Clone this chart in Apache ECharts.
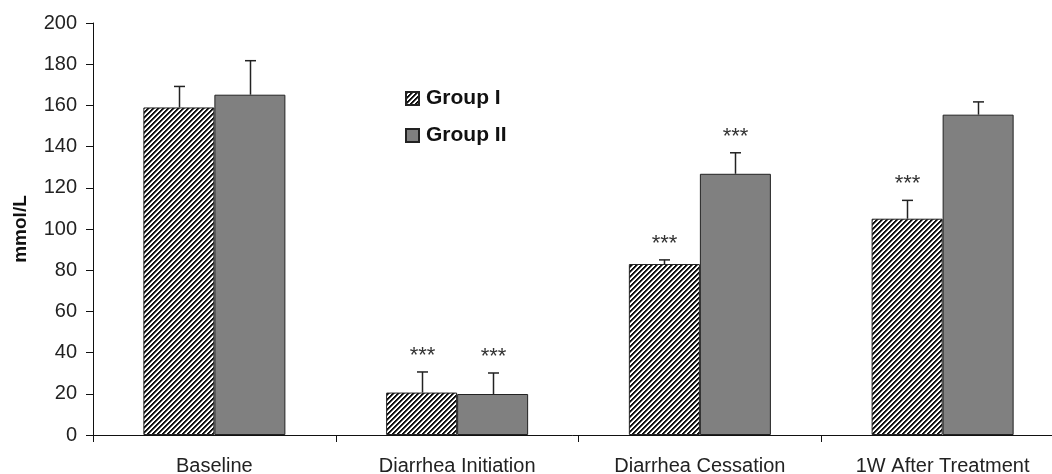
<!DOCTYPE html>
<html><head><meta charset="utf-8">
<script src="https://cdn.jsdelivr.net/npm/echarts@6/dist/echarts.min.js"></script>
<style>html,body{margin:0;padding:0;background:#fff}#c{width:1052px;height:474px}</style>
</head><body><div id="c"></div>
<script>
const categories = ['Baseline', 'Diarrhea Initiation', 'Diarrhea Cessation', '1W After Treatment'];
const groupNames = ['Group I', 'Group II'];
const group1Mean = [159, 20.6, 83, 105];
const group1ErrTop = [169.2, 30.6, 85, 113.9];
const group1Stars = ['', '***', '***', '***'];
const group2Mean = [165.2, 19.9, 126.8, 155.5];
const group2ErrTop = [181.7, 30.1, 137, 161.7];
const group2Stars = ['', '***', '***', ''];

const FONT = '"Liberation Sans", Arial, sans-serif';
const CAT_GAP = 0.415;

function hatch() {
  const P = 5, c = document.createElement('canvas');
  c.width = P; c.height = P;
  const ctx = c.getContext('2d');
  const img = ctx.createImageData(P, P);
  for (let y = 0; y < P; y++) for (let x = 0; x < P; x++) {
    const k = (x + y) % P;
    const v = k < 2 ? 15 : (k === 2 ? 120 : 255);
    const i = (y * P + x) * 4;
    img.data[i] = v; img.data[i + 1] = v; img.data[i + 2] = v; img.data[i + 3] = 255;
  }
  ctx.putImageData(img, 0, 0);
  return c;
}
const hatchColor = { image: hatch(), repeat: 'repeat' };

function errSeries(name, means, tops, stars, side) {
  return {
    name: name, type: 'custom', z: 5,
    data: means.map((m, i) => [i, m, tops[i]]),
    renderItem: function (params, api) {
      const ci = api.value(0), mean = api.value(1), top = api.value(2);
      const band = api.size([1, 0])[0];
      const off = band * (1 - CAT_GAP) / 4 * side;
      const pT = api.coord([ci, top]), pM = api.coord([ci, mean]);
      const x = Math.round(pT[0] + off) + 0.5;
      const children = [
        { type: 'line', shape: { x1: x, y1: pM[1], x2: x, y2: pT[1] }, style: { stroke: '#222', lineWidth: 1.5 } },
        { type: 'line', shape: { x1: x - 5.5, y1: pT[1], x2: x + 5.5, y2: pT[1] }, style: { stroke: '#222', lineWidth: 1.5 } }
      ];
      const s = stars[params.dataIndex];
      if (s) {
        children.push({ type: 'text', x: x, y: pT[1] - 16,
          style: { text: s, fontSize: 22, fontFamily: FONT, fill: '#333', align: 'center', verticalAlign: 'middle' } });
      }
      return { type: 'group', children: children };
    }
  };
}

const chart = echarts.init(document.getElementById('c'), null, { renderer: 'canvas' });
chart.setOption({
  animation: false,
  backgroundColor: '#fff',
  grid: { left: 93, width: 971, top: 23, bottom: 39, containLabel: false, outerBoundsMode: 'none' },
  legend: {
    data: groupNames, orient: 'vertical', left: 400, top: 83,
    itemWidth: 13, itemHeight: 13, itemGap: 16, icon: 'rect',
    textStyle: { fontFamily: FONT, fontSize: 21, fontWeight: 'bold', color: '#111', padding: [0, 0, 0, 2] }
  },
  xAxis: {
    type: 'category', data: categories,
    axisLine: { lineStyle: { color: '#111', width: 1 } },
    axisTick: { show: true, length: 7, lineStyle: { color: '#111' } },
    axisLabel: { fontFamily: FONT, fontSize: 20, color: '#222', margin: 21, interval: 0 }
  },
  yAxis: {
    type: 'value', min: 0, max: 200, interval: 20,
    name: 'mmol/L', nameLocation: 'middle', nameRotate: 90, nameGap: 63,
    nameTextStyle: { fontFamily: FONT, fontSize: 19, fontWeight: 'bold', color: '#111' },
    axisLine: { show: true, lineStyle: { color: '#111', width: 1 } },
    axisTick: { show: true, length: 7, lineStyle: { color: '#111' } },
    splitLine: { show: false },
    axisLabel: { fontFamily: FONT, fontSize: 20, color: '#222', margin: 16 }
  },
  series: [
    { name: groupNames[0], type: 'bar', data: group1Mean, barGap: '0%', barCategoryGap: (CAT_GAP * 100) + '%',
      itemStyle: { color: hatchColor, borderColor: '#222', borderWidth: 1 } },
    { name: groupNames[1], type: 'bar', data: group2Mean, barGap: '0%', barCategoryGap: (CAT_GAP * 100) + '%',
      itemStyle: { color: '#808080', borderColor: '#222', borderWidth: 1 } },
    errSeries('errI', group1Mean, group1ErrTop, group1Stars, -1),
    errSeries('errII', group2Mean, group2ErrTop, group2Stars, 1)
  ]
});
</script>
</body></html>
